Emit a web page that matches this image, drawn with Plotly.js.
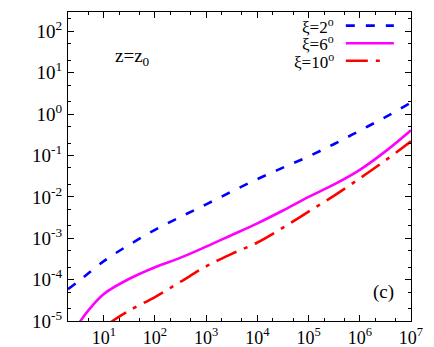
<!DOCTYPE html>
<html>
<head>
<meta charset="utf-8">
<script src="https://cdn.plot.ly/plotly-3.0.1.min.js"></script>
<style>html,body{margin:0;padding:0;background:#fff}#plot{width:434px;height:347px}</style>
</head>
<body>
<div id="plot"></div>
<script>
const xBlue = [2, 3.16, 10, 31.6, 100, 316, 1e3, 3.16e3, 1e4, 3.16e4, 1e5, 3.16e5, 1e6, 3.16e6, 1e7];
const yBlue = [5.9e-5, 9.0e-5, 2.8e-4, 7.0e-4, 1.6e-3, 3.3e-3, 6.6e-3, 1.35e-2, 2.7e-2, 5.1e-2, 9.5e-2, 0.19, 0.40, 0.85, 1.9];

const xMag = [3, 3.5, 5, 10, 31.6, 100, 316, 1e3, 3.16e3, 1e4, 3.16e4, 1e5, 3.16e5, 1e6, 3.16e6, 1e7];
const yMag = [7.5e-6, 1.0e-5, 1.8e-5, 4.5e-5, 1.05e-4, 2.0e-4, 3.4e-4, 6.3e-4, 1.2e-3, 2.3e-3, 4.7e-3, 1.0e-2, 2.0e-2, 4.5e-2, 0.126, 0.41];

const xRed = [12, 14.8, 31.6, 100, 316, 1e3, 3.16e3, 1e4, 3.16e4, 1e5, 3.16e5, 1e6, 3.16e6, 1e7];
const yRed = [8.2e-6, 1.0e-5, 1.8e-5, 3.8e-5, 8.9e-5, 2.1e-4, 4.2e-4, 7.9e-4, 1.8e-3, 4.4e-3, 1.07e-2, 2.8e-2, 7.6e-2, 0.22];

const seriesNames = ["ξ=2<sup>o</sup>", "ξ=6<sup>o</sup>", "ξ=10<sup>o</sup>"];

const xTickVals = [10, 100, 1e3, 1e4, 1e5, 1e6, 1e7];
const xTickText = ["10<sup>1</sup>","10<sup>2</sup>","10<sup>3</sup>","10<sup>4</sup>","10<sup>5</sup>","10<sup>6</sup>","10<sup>7</sup>"];
const yTickVals = [1e-5, 1e-4, 1e-3, 1e-2, 1e-1, 1, 10, 100];
const yTickText = ["10<sup>-5</sup>","10<sup>-4</sup>","10<sup>-3</sup>","10<sup>-2</sup>","10<sup>-1</sup>","10<sup>0</sup>","10<sup>1</sup>","10<sup>2</sup>"];

const colors = ["#0000ff", "#ff00ff", "#ff0000"];
const dashes = ["9px,11px", "solid", "22px,8px,4px,8px"];

const traces = [
  {x: xBlue, y: yBlue, name: seriesNames[0], mode: "lines", line: {color: colors[0], width: 2.6, dash: dashes[0], shape: "spline"}},
  {x: xMag, y: yMag, name: seriesNames[1], mode: "lines", line: {color: colors[1], width: 2.6, dash: dashes[1], shape: "spline"}},
  {x: xRed, y: yRed, name: seriesNames[2], mode: "lines", line: {color: colors[2], width: 2.6, dash: dashes[2], shape: "spline"}}
];

const fam = "'Liberation Serif', 'DejaVu Serif', serif";
function f(size) { return {family: fam, size: size, color: "#000"}; }

const legendY = [0.956, 0.899, 0.842];
const annotations = [
  {xref: "paper", yref: "paper", x: 0.13, y: 0.855, text: "z=z<sub>0</sub>", showarrow: false, xanchor: "left", yanchor: "middle", font: f(19)},
  {xref: "paper", yref: "paper", x: 0.955, y: 0.095, text: "(c)", showarrow: false, xanchor: "right", yanchor: "middle", font: f(19)}
];
const shapes = [];
for (let i = 0; i < 3; i++) {
  annotations.push({xref: "paper", yref: "paper", x: 0.782, y: legendY[i], text: seriesNames[i], showarrow: false, xanchor: "right", yanchor: "middle", font: f(17)});
  shapes.push({type: "line", xref: "paper", yref: "paper", x0: 0.81, x1: (i === 2 ? 0.925 : 0.95), y0: legendY[i], y1: legendY[i], line: {color: colors[i], width: 2.6, dash: dashes[i]}});
}

const axisCommon = {
  type: "log", showgrid: false, zeroline: false, showline: true, linecolor: "#000", linewidth: 1,
  mirror: "ticks", ticks: "inside", ticklen: 6, tickwidth: 1, tickcolor: "#000",
  minor: {ticks: "inside", ticklen: 3, tickwidth: 1, tickcolor: "#000", showgrid: false}
};

const layout = {
  width: 434, height: 347,
  margin: {l: 68, r: 23, t: 12, b: 26},
  paper_bgcolor: "#fff", plot_bgcolor: "#fff",
  font: f(18),
  showlegend: false,
  xaxis: Object.assign({}, axisCommon, {range: [Math.log10(2), 7], tickvals: xTickVals, ticktext: xTickText, tickfont: f(18)}),
  yaxis: Object.assign({}, axisCommon, {range: [-5, 2.47], tickvals: yTickVals, ticktext: yTickText, tickfont: f(19), ticklabelstandoff: 1}),
  annotations: annotations,
  shapes: shapes
};

Plotly.newPlot("plot", traces, layout, {displayModeBar: false, staticPlot: true});
</script>
</body>
</html>
